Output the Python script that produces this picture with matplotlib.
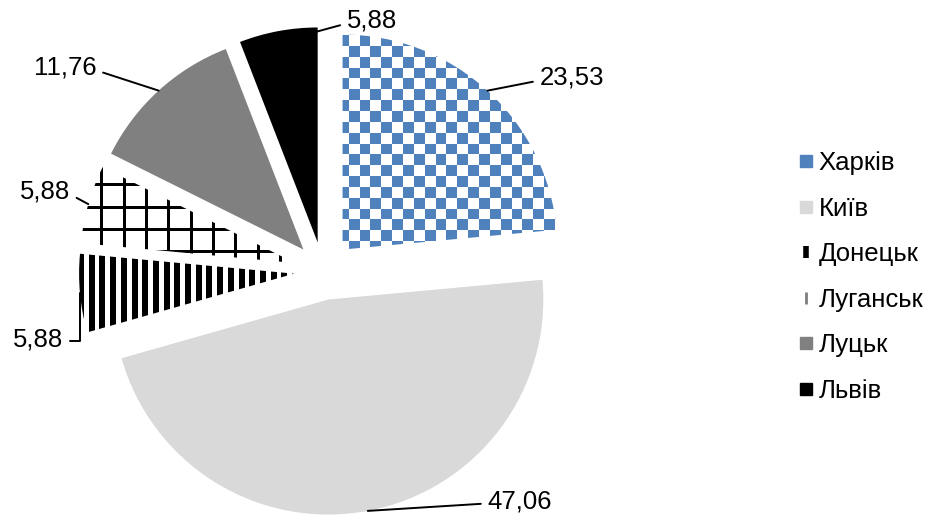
import numpy as np
import matplotlib
matplotlib.use("Agg")
import matplotlib.pyplot as plt
from matplotlib.lines import Line2D

plt.rcParams['font.family'] = ['Liberation Sans', 'DejaVu Sans']

# ---- data ----
cities = ['Харків', 'Київ', 'Донецьк', 'Луганськ', 'Луцьк', 'Львів']
shares = [23.53, 47.06, 5.88, 5.88, 11.76, 5.88]

W, H, DPI = 928, 515, 100
fig = plt.figure(figsize=(W / DPI, H / DPI), dpi=DPI)
ax = fig.add_axes([0, 0, 1, 1])

SCALE = 215.0          # pixels per unit radius
CX, CY = 323.0, 271.0  # pie centre in pixels (from top-left)
xlim = (-CX / SCALE, (W - CX) / SCALE)
ylim = (-(H - CY) / SCALE, CY / SCALE)

BLUE = '#4F81BD'
solid = {1: '#D9D9D9', 4: '#808080', 5: '#000000'}
colors = [solid.get(i, 'white') for i in range(len(shares))]

wedges, _ = ax.pie(shares, explode=[0.135] * len(shares), startangle=90,
                   counterclock=False, radius=1, colors=colors,
                   wedgeprops=dict(linewidth=0))
ax.set_aspect('auto')
ax.set_xlim(*xlim)
ax.set_ylim(*ylim)
ax.axis('off')

# ---- pattern fills (pixel aligned) ----
Y, X = np.mgrid[0:H, 0:W].astype(float)


def rgba(mask, col_on, col_off=(1, 1, 1)):
    img = np.ones((H, W, 4))
    img[..., :3] = np.where(mask[..., None], np.array(col_on), np.array(col_off))
    return img


blue_rgb = matplotlib.colors.to_rgb(BLUE)
checker = rgba((np.floor((X - 1.1) / 10.85) + np.floor((Y - 2) / 10.85)) % 2 == 0, blue_rgb)
stripes = rgba(((X - 2.7) % 10.7) < 6.0, (0, 0, 0))
grid = rgba((((X - 10.8) % 22.3) < 3.0) | (((Y - 4.3) % 22.3) < 3.0), (0, 0, 0))

patterns = {0: checker, 2: stripes, 3: grid}
for i, img in patterns.items():
    im = ax.imshow(img, extent=(xlim[0], xlim[1], ylim[0], ylim[1]),
                   origin='upper', interpolation='nearest', zorder=wedges[i].get_zorder())
    im.set_clip_path(wedges[i])
ax.set_xlim(*xlim)
ax.set_ylim(*ylim)
ax.set_aspect('auto')

# ---- data labels with leader lines ----
label_pos = [(572, 78), (520, 501), (38, 339), (45, 192), (65, 68), (372, 21)]
anchor = [(0.5, 1.0), (0.5, 1.0), (0.5, 1.0), (0.5, 1.0), (0.5, 1.0), (0.93, 0.95)]
conn = ['arc3', 'arc3', 'angle,angleA=0,angleB=90,rad=0', 'arc3', 'arc3', 'arc3']


def px2data(px, py):
    return (px - CX) / SCALE, (CY - py) / SCALE


for i, w in enumerate(wedges):
    fa, fr = anchor[i]
    th = np.deg2rad(w.theta1 + fa * (w.theta2 - w.theta1))
    cx, cy = w.center
    ax_pt = (cx + fr * w.r * np.cos(th), cy + fr * w.r * np.sin(th))
    tx, ty = px2data(*label_pos[i])
    txt = f"{shares[i]:.2f}".replace('.', ',')
    relx = 0.0 if tx > ax_pt[0] else 1.0
    ax.annotate(txt, xy=ax_pt, xytext=(tx, ty), ha='center', va='center',
                fontsize=18.5, color='black', zorder=10,
                arrowprops=dict(arrowstyle='-', color='black', lw=1.4,
                                shrinkA=3, shrinkB=0, relpos=(relx, 0.4),
                                connectionstyle=conn[i]))

# ---- legend ----
handles = [
    Line2D([], [], linestyle='none', marker='s', markersize=8, color=BLUE),
    Line2D([], [], linestyle='none', marker='s', markersize=8, color='#D9D9D9'),
    Line2D([], [], linestyle='none', marker='|', markersize=9, markeredgewidth=4, color='black'),
    Line2D([], [], linestyle='none', marker='|', markersize=9, markeredgewidth=2, color='#7F7F7F'),
    Line2D([], [], linestyle='none', marker='s', markersize=8, color='#808080'),
    Line2D([], [], linestyle='none', marker='s', markersize=8, color='black'),
]
fig.legend(handles, cities, loc='center left', bbox_to_anchor=(0.846, 0.462),
           frameon=False, fontsize=18.5, handlelength=0.6, handletextpad=0.2,
           labelspacing=0.84, borderpad=0)

fig.savefig('out.png', dpi=DPI)
